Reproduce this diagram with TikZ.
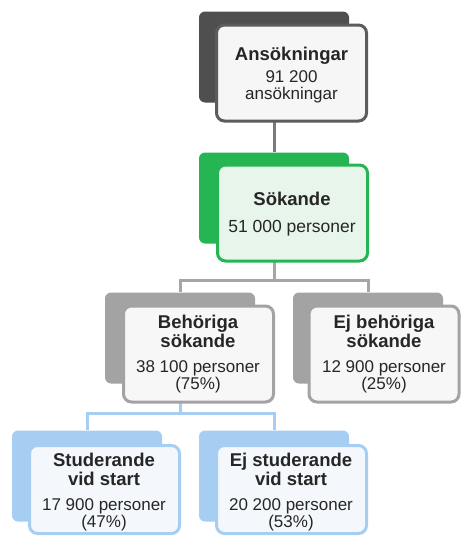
\documentclass[tikz,border=0pt]{standalone}
\usepackage{fontspec}
\setmainfont{Liberation Sans}
\definecolor{darkback}{HTML}{4F4F4F}
\definecolor{darkline}{HTML}{5C5C5C}
\definecolor{topfill}{HTML}{F6F6F6}
\definecolor{grn}{HTML}{25B552}
\definecolor{grnfill}{HTML}{E7F5EB}
\definecolor{gryback}{HTML}{A3A3A3}
\definecolor{gryline}{HTML}{A3A3A3}
\definecolor{gryfill}{HTML}{F7F7F7}
\definecolor{blu}{HTML}{A6CDF2}
\definecolor{blufill}{HTML}{F4F8FD}
\definecolor{txt}{HTML}{262626}
\definecolor{conndark}{HTML}{7A7A7A}
\definecolor{conngray}{HTML}{A6A6A6}
\newcommand\tightls{\lineskiplimit-30pt\relax}
\newcommand\ttlfont{\fontsize{18.5}{19}\selectfont\bfseries\tightls}
\newcommand\valfont{\fontsize{17.5}{14}\selectfont\tightls}
\newcommand\pctfont{\fontsize{17}{16.5}\selectfont\tightls}
\begin{document}
\begin{tikzpicture}[x=1pt,y=-1pt,
  backbox/.style={rectangle,rounded corners=6pt,minimum width=150pt,minimum height=91pt,inner sep=0pt},
  frontbox/.style={rectangle,rounded corners=8pt,line width=3pt,minimum width=150pt,minimum height=96pt,inner sep=0pt},
  ttl/.style={anchor=base,inner sep=0pt,text=txt,align=center,font=\ttlfont},
  val/.style={anchor=base,inner sep=0pt,text=txt,align=center,font=\valfont},
  pct/.style={anchor=base,inner sep=0pt,text=txt,align=center,font=\pctfont},
  conn/.style={line width=3pt}]
\useasboundingbox (0,0) rectangle (461,538);
% back boxes
\node[backbox,fill=darkback] (Aback) at (274,57) {};
\node[backbox,fill=grn] (Sback) at (274,198) {};
\node[backbox,fill=gryback] (Bback) at (180,338) {};
\node[backbox,fill=gryback] (Eback) at (368,338) {};
\node[backbox,fill=blu] (Stback) at (87,476) {};
\node[backbox,fill=blu] (ESback) at (274,476) {};
% connectors
\coordinate (h1) at (274,280);
\coordinate (h2) at (180,413);
\draw[conn,draw=conndark] (Aback.south) -- (Sback.north);
\draw[conn,draw=conngray] (Sback.south) -- (h1);
\draw[conn,draw=conngray] (Bback.north) |- (h1) -| (Eback.north);
\draw[conn,draw=blu] (Bback.south) -- (h2);
\draw[conn,draw=blu] (Stback.north) |- (h2) -| (ESback.north);
% front boxes
\node[frontbox,draw=darkline,fill=topfill] (Afront) at (291.5,73) {};
\node[frontbox,draw=grn,fill=grnfill] (Sfront) at (292.5,213) {};
\node[frontbox,draw=gryline,fill=gryfill] (Bfront) at (198.5,354) {};
\node[frontbox,draw=gryline,fill=gryfill] (Efront) at (384,354) {};
\node[frontbox,draw=blu,fill=blufill,minimum height=88pt] (Stfront) at (104.5,489.5) {};
\node[frontbox,draw=blu,fill=blufill,minimum height=88pt] (ESfront) at (291.5,489.5) {};
% texts (anchor base = baseline of last line)
\node[ttl] (A1) at (291.5,60) {Ansökningar};
\node[pct] (A2) at (291.5,99) {91 200\\ansökningar};
\node[ttl] (S1) at (292,205) {Sökande};
\node[val] (S2) at (292,232) {51 000 personer};
\node[ttl] (B1) at (198,347) {Behöriga\\sökande};
\node[pct] (B3) at (198,389) {38 100 personer\\(75\%)};
\node[ttl] (E1) at (384,347) {Ej behöriga\\sökande};
\node[pct] (E3) at (384,389) {12 900 personer\\(25\%)};
\node[ttl] (St1) at (104,485) {Studerande\\vid start};
\node[pct] (St3) at (104,527) {17 900 personer\\(47\%)};
\node[ttl] (ES1) at (291,485) {Ej studerande\\vid start};
\node[pct] (ES3) at (291,527) {20 200 personer\\(53\%)};
\end{tikzpicture}
\end{document}
